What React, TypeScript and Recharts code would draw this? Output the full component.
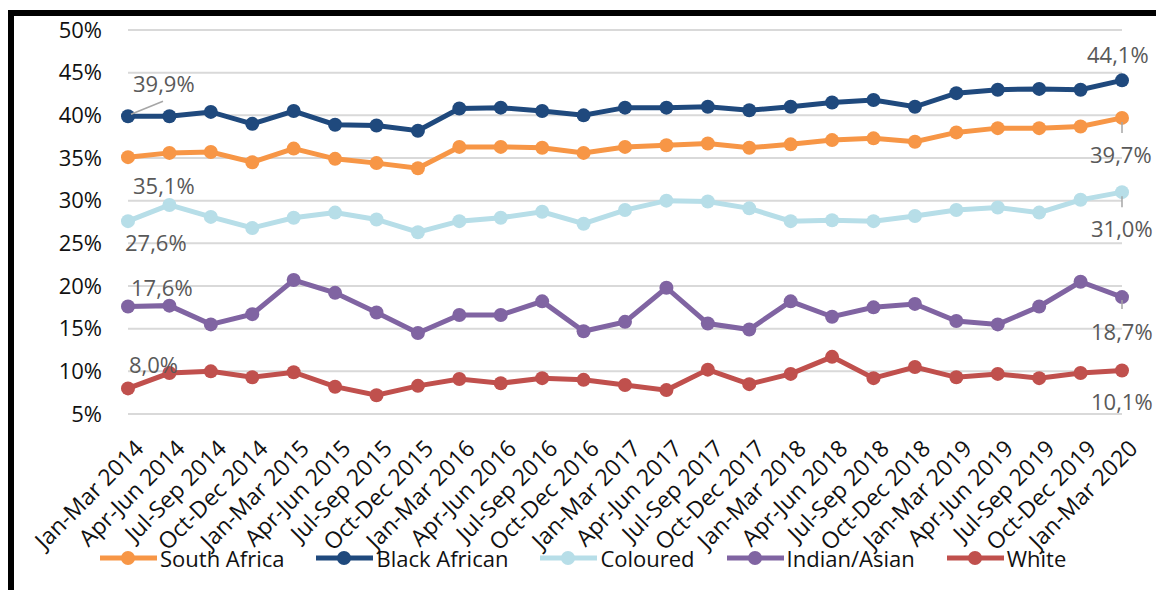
import { LineChart, Line, XAxis, YAxis, CartesianGrid, LabelList } from "recharts";

const periods = [
  "Jan-Mar 2014", "Apr-Jun 2014", "Jul-Sep 2014", "Oct-Dec 2014",
  "Jan-Mar 2015", "Apr-Jun 2015", "Jul-Sep 2015", "Oct-Dec 2015",
  "Jan-Mar 2016", "Apr-Jun 2016", "Jul-Sep 2016", "Oct-Dec 2016",
  "Jan-Mar 2017", "Apr-Jun 2017", "Jul-Sep 2017", "Oct-Dec 2017",
  "Jan-Mar 2018", "Apr-Jun 2018", "Jul-Sep 2018", "Oct-Dec 2018",
  "Jan-Mar 2019", "Apr-Jun 2019", "Jul-Sep 2019", "Oct-Dec 2019",
  "Jan-Mar 2020",
];

const southAfrica = [35.1, 35.6, 35.7, 34.5, 36.1, 34.9, 34.4, 33.8, 36.3, 36.3, 36.2, 35.6, 36.3, 36.5, 36.7, 36.2, 36.6, 37.1, 37.3, 36.9, 38.0, 38.5, 38.5, 38.7, 39.7];
const blackAfrican = [39.9, 39.9, 40.4, 39.0, 40.5, 38.9, 38.8, 38.2, 40.8, 40.9, 40.5, 40.0, 40.9, 40.9, 41.0, 40.6, 41.0, 41.5, 41.8, 41.0, 42.6, 43.0, 43.1, 43.0, 44.1];
const coloured = [27.6, 29.5, 28.1, 26.8, 28.0, 28.6, 27.8, 26.3, 27.6, 28.0, 28.7, 27.3, 28.9, 30.0, 29.9, 29.1, 27.6, 27.7, 27.6, 28.2, 28.9, 29.2, 28.6, 30.1, 31.0];
const indianAsian = [17.6, 17.7, 15.5, 16.7, 20.7, 19.2, 16.9, 14.5, 16.6, 16.6, 18.2, 14.7, 15.8, 19.8, 15.6, 14.9, 18.2, 16.4, 17.5, 17.9, 15.9, 15.5, 17.6, 20.5, 18.7];
const white = [8.0, 9.8, 10.0, 9.3, 9.9, 8.2, 7.2, 8.3, 9.1, 8.6, 9.2, 9.0, 8.4, 7.8, 10.2, 8.5, 9.7, 11.7, 9.2, 10.5, 9.3, 9.7, 9.2, 9.8, 10.1];

const yTicks = [5, 10, 15, 20, 25, 30, 35, 40, 45, 50];

const data = periods.map((p, i) => ({
  period: p,
  southAfrica: southAfrica[i],
  blackAfrican: blackAfrican[i],
  coloured: coloured[i],
  indianAsian: indianAsian[i],
  white: white[i],
}));

type LabelCfg = { dx: number; dy: number; leader?: [number, number, number, number] };

const series: { key: string; name: string; color: string; first: LabelCfg; last: LabelCfg }[] = [
  { key: "southAfrica", name: "South Africa", color: "#F79646", first: { dx: 5, dy: 37 }, last: { dx: -32, dy: 45, leader: [0, 4, 0, 15] } },
  { key: "blackAfrican", name: "Black African", color: "#1F497D", first: { dx: 5, dy: -24, leader: [3, -2, 35, -15] }, last: { dx: -35, dy: -17 } },
  { key: "coloured", name: "Coloured", color: "#B7DEE8", first: { dx: -3, dy: 30 }, last: { dx: -31, dy: 45, leader: [0, 4, 0, 15] } },
  { key: "indianAsian", name: "Indian/Asian", color: "#8064A2", first: { dx: 3, dy: -10 }, last: { dx: -31, dy: 43, leader: [0, 3, 0, 12] } },
  { key: "white", name: "White", color: "#C0504D", first: { dx: 1, dy: -15 }, last: { dx: -31, dy: 40 } },
];

const font = "'Open Sans', 'Noto Sans', sans-serif";
const fmt = (v: number) => `${v.toFixed(1).replace(".", ",")}%`;

const makeLabel = (s: (typeof series)[number]) => (props: any) => {
  const { x, y, index, value } = props;
  const c = index === 0 ? s.first : index === periods.length - 1 ? s.last : null;
  if (!c) return null;
  return (
    <g>
      {c.leader && (
        <line
          x1={x + c.leader[0]}
          y1={y + c.leader[1]}
          x2={x + c.leader[2]}
          y2={y + c.leader[3]}
          stroke="#A6A6A6"
          strokeWidth={1.5}
        />
      )}
      <text x={x + c.dx} y={y + c.dy} fill="#595959" fontSize={22} fontFamily={font}>
        {fmt(Number(value))}
      </text>
    </g>
  );
};

const XTick = (props: any) => {
  const { x, y, payload } = props;
  const ax = x + 17;
  const ay = y + 28;
  return (
    <text x={ax} y={ay} transform={`rotate(-45, ${ax}, ${ay})`} textAnchor="end" fontSize={23} fill="#111" fontFamily={font}>
      {payload.value}
    </text>
  );
};

export default function App() {
  return (
    <div style={{ position: "absolute", left: 0, top: 0, width: 1156, height: 590, overflow: "hidden", background: "#fff", fontFamily: font }}>
      {/* black frame, only top and left visible */}
      <div style={{ position: "absolute", left: 8, top: 10, width: 1200, height: 640, borderTop: "6px solid #000", borderLeft: "6px solid #000" }} />
      <div style={{ position: "absolute", left: 0, top: 0 }}>
        <LineChart width={1156} height={590} data={data} margin={{ top: 30, right: 34, left: 0, bottom: 0 }}>
          <CartesianGrid vertical={false} stroke="#D9D9D9" strokeWidth={2} />
          <XAxis dataKey="period" interval={0} tick={<XTick />} tickLine={false} axisLine={false} height={176} />
          <YAxis
            domain={[5, 50]}
            ticks={yTicks}
            width={128}
            tickLine={false}
            axisLine={false}
            tickMargin={20}
            tickFormatter={(v) => `${v}%`}
            tick={{ fill: "#111", fontSize: 22, fontFamily: font }}
          />
          {series.map((s) => (
            <Line
              key={s.key}
              dataKey={s.key}
              name={s.name}
              stroke={s.color}
              strokeWidth={5}
              dot={{ r: 7, fill: s.color, stroke: s.color, strokeWidth: 0 }}
              isAnimationActive={false}
            >
              <LabelList dataKey={s.key} content={makeLabel(s)} />
            </Line>
          ))}
        </LineChart>
      </div>
      {/* legend */}
      <div style={{ position: "absolute", left: 100, top: 543, display: "flex", alignItems: "center", height: 30 }}>
        {series.map((s) => (
          <div key={s.key} style={{ display: "flex", alignItems: "center", marginRight: 32 }}>
            <svg width={57} height={16}>
              <line x1={0} y1={8} x2={57} y2={8} stroke={s.color} strokeWidth={5} />
              <circle cx={28} cy={8} r={7} fill={s.color} />
            </svg>
            <span style={{ marginLeft: 3, fontSize: 22, color: "#111" }}>{s.name}</span>
          </div>
        ))}
      </div>
    </div>
  );
}
